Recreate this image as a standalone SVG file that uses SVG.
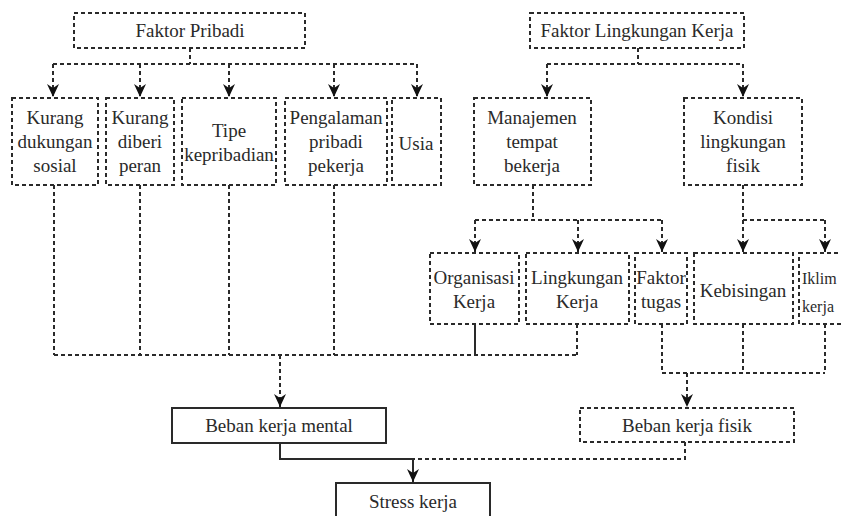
<svg xmlns="http://www.w3.org/2000/svg" width="841" height="516" viewBox="0 0 841 516">
<style>
.d{fill:#fff;stroke:#2a2a2a;stroke-width:2;stroke-dasharray:4 3}
.s{fill:#fff;stroke:#2a2a2a;stroke-width:2}
.c{fill:none;stroke:#2a2a2a;stroke-width:2;stroke-dasharray:4 3}
.cs{fill:none;stroke:#2a2a2a;stroke-width:2}
.a{marker-end:url(#ah)}
text{font-family:"Liberation Serif","Times New Roman",serif;font-size:19px;fill:#2a2a2a;text-anchor:middle}
</style>
<defs>
<marker id="ah" markerUnits="userSpaceOnUse" markerWidth="14" markerHeight="12" refX="13" refY="6" orient="auto">
<path d="M0,0 L13,6 L0,12 L4,6 Z" fill="#111"/>
</marker>
</defs>
<rect width="841" height="516" fill="#fff"/>
<g id="connectors">
<path class="c" d="M190,48 V64 M53,64 H417"/>
<path class="c a" d="M53,64 V97"/>
<path class="c a" d="M140,64 V97"/>
<path class="c a" d="M229,64 V97"/>
<path class="c a" d="M334,64 V97"/>
<path class="c a" d="M417,64 V97"/>
<path class="c" d="M638,48 V64 M547,64 H743"/>
<path class="c a" d="M547,64 V97"/>
<path class="c a" d="M743,64 V97"/>
<path class="c" d="M54,185 V355 M140,185 V355 M229,185 V355 M334,185 V355 M54,355 H577 M577,324 V355"/>
<path class="cs" d="M475,324 V355"/>
<path class="c a" d="M280,355 V407"/>
<path class="c" d="M533,185 V220 M475,220 H662"/>
<path class="c a" d="M475,220 V252"/>
<path class="c a" d="M578,220 V252"/>
<path class="c a" d="M662,220 V252"/>
<path class="c a" d="M743,185 V252"/>
<path class="c" d="M743,220 H825"/>
<path class="c a" d="M825,220 V252"/>
<path class="c" d="M662,324 V373 M743,324 V373 M825,324 V373 M662,373 H825"/>
<path class="c a" d="M687,373 V407"/>
<path class="c" d="M685,442 V459 H413"/>
<path class="cs" d="M280,443 V459 H413"/>
<path class="cs a" d="M413,459 V482"/>
</g>
<g id="faktor-pribadi"><rect class="d" x="74" y="13" width="231" height="35"/><text x="190" y="37">Faktor Pribadi</text></g>
<g id="faktor-lingkungan-kerja"><rect class="d" x="530" y="13" width="214" height="35"/><text x="637" y="37">Faktor Lingkungan Kerja</text></g>
<g id="kurang-dukungan-sosial"><rect class="d" x="12" y="98" width="86" height="87"/><text x="55" y="124">Kurang</text><text x="55" y="148">dukungan</text><text x="55" y="172">sosial</text></g>
<g id="kurang-diberi-peran"><rect class="d" x="106" y="98" width="68" height="87"/><text x="140" y="124">Kurang</text><text x="140" y="148">diberi</text><text x="140" y="172">peran</text></g>
<g id="tipe-kepribadian"><rect class="d" x="182" y="98" width="94" height="87"/><text x="229" y="137">Tipe</text><text x="229" y="161">kepribadian</text></g>
<g id="pengalaman"><rect class="d" x="285" y="98" width="102" height="87"/><text x="336" y="124">Pengalaman</text><text x="336" y="148">pribadi</text><text x="336" y="172">pekerja</text></g>
<g id="usia"><rect class="d" x="392" y="98" width="49" height="87"/><text x="416" y="150">Usia</text></g>
<g id="manajemen"><rect class="d" x="474" y="98" width="117" height="87"/><text x="532" y="124">Manajemen</text><text x="532" y="148">tempat</text><text x="532" y="172">bekerja</text></g>
<g id="kondisi"><rect class="d" x="684" y="98" width="118" height="87"/><text x="743" y="124">Kondisi</text><text x="743" y="148">lingkungan</text><text x="743" y="172">fisik</text></g>
<g id="organisasi-kerja"><rect class="d" x="430" y="253" width="89" height="71"/><text x="474" y="284">Organisasi</text><text x="474" y="308">Kerja</text></g>
<g id="lingkungan-kerja"><rect class="d" x="526" y="253" width="103" height="71"/><text x="577" y="284">Lingkungan</text><text x="577" y="308">Kerja</text></g>
<g id="faktor-tugas"><rect class="d" x="635" y="253" width="52" height="71"/><text x="661" y="284">Faktor</text><text x="661" y="308">tugas</text></g>
<g id="kebisingan"><rect class="d" x="694" y="253" width="99" height="71"/><text x="743" y="297">Kebisingan</text></g>
<g id="iklim-kerja"><rect class="d" x="799" y="253" width="80" height="71"/><text x="802" y="284" style="text-anchor:start;font-size:16px">Iklim</text><text x="802" y="312" style="text-anchor:start;font-size:16px">kerja</text></g>
<g id="beban-kerja-mental"><rect class="s" x="172" y="408" width="214" height="35"/><text x="279" y="432">Beban kerja mental</text></g>
<g id="beban-kerja-fisik"><rect class="d" x="580" y="408" width="214" height="34"/><text x="687" y="432">Beban kerja fisik</text></g>
<g id="stress-kerja"><rect class="s" x="336" y="483" width="154" height="40"/><text x="413" y="508">Stress kerja</text></g>
</svg>
